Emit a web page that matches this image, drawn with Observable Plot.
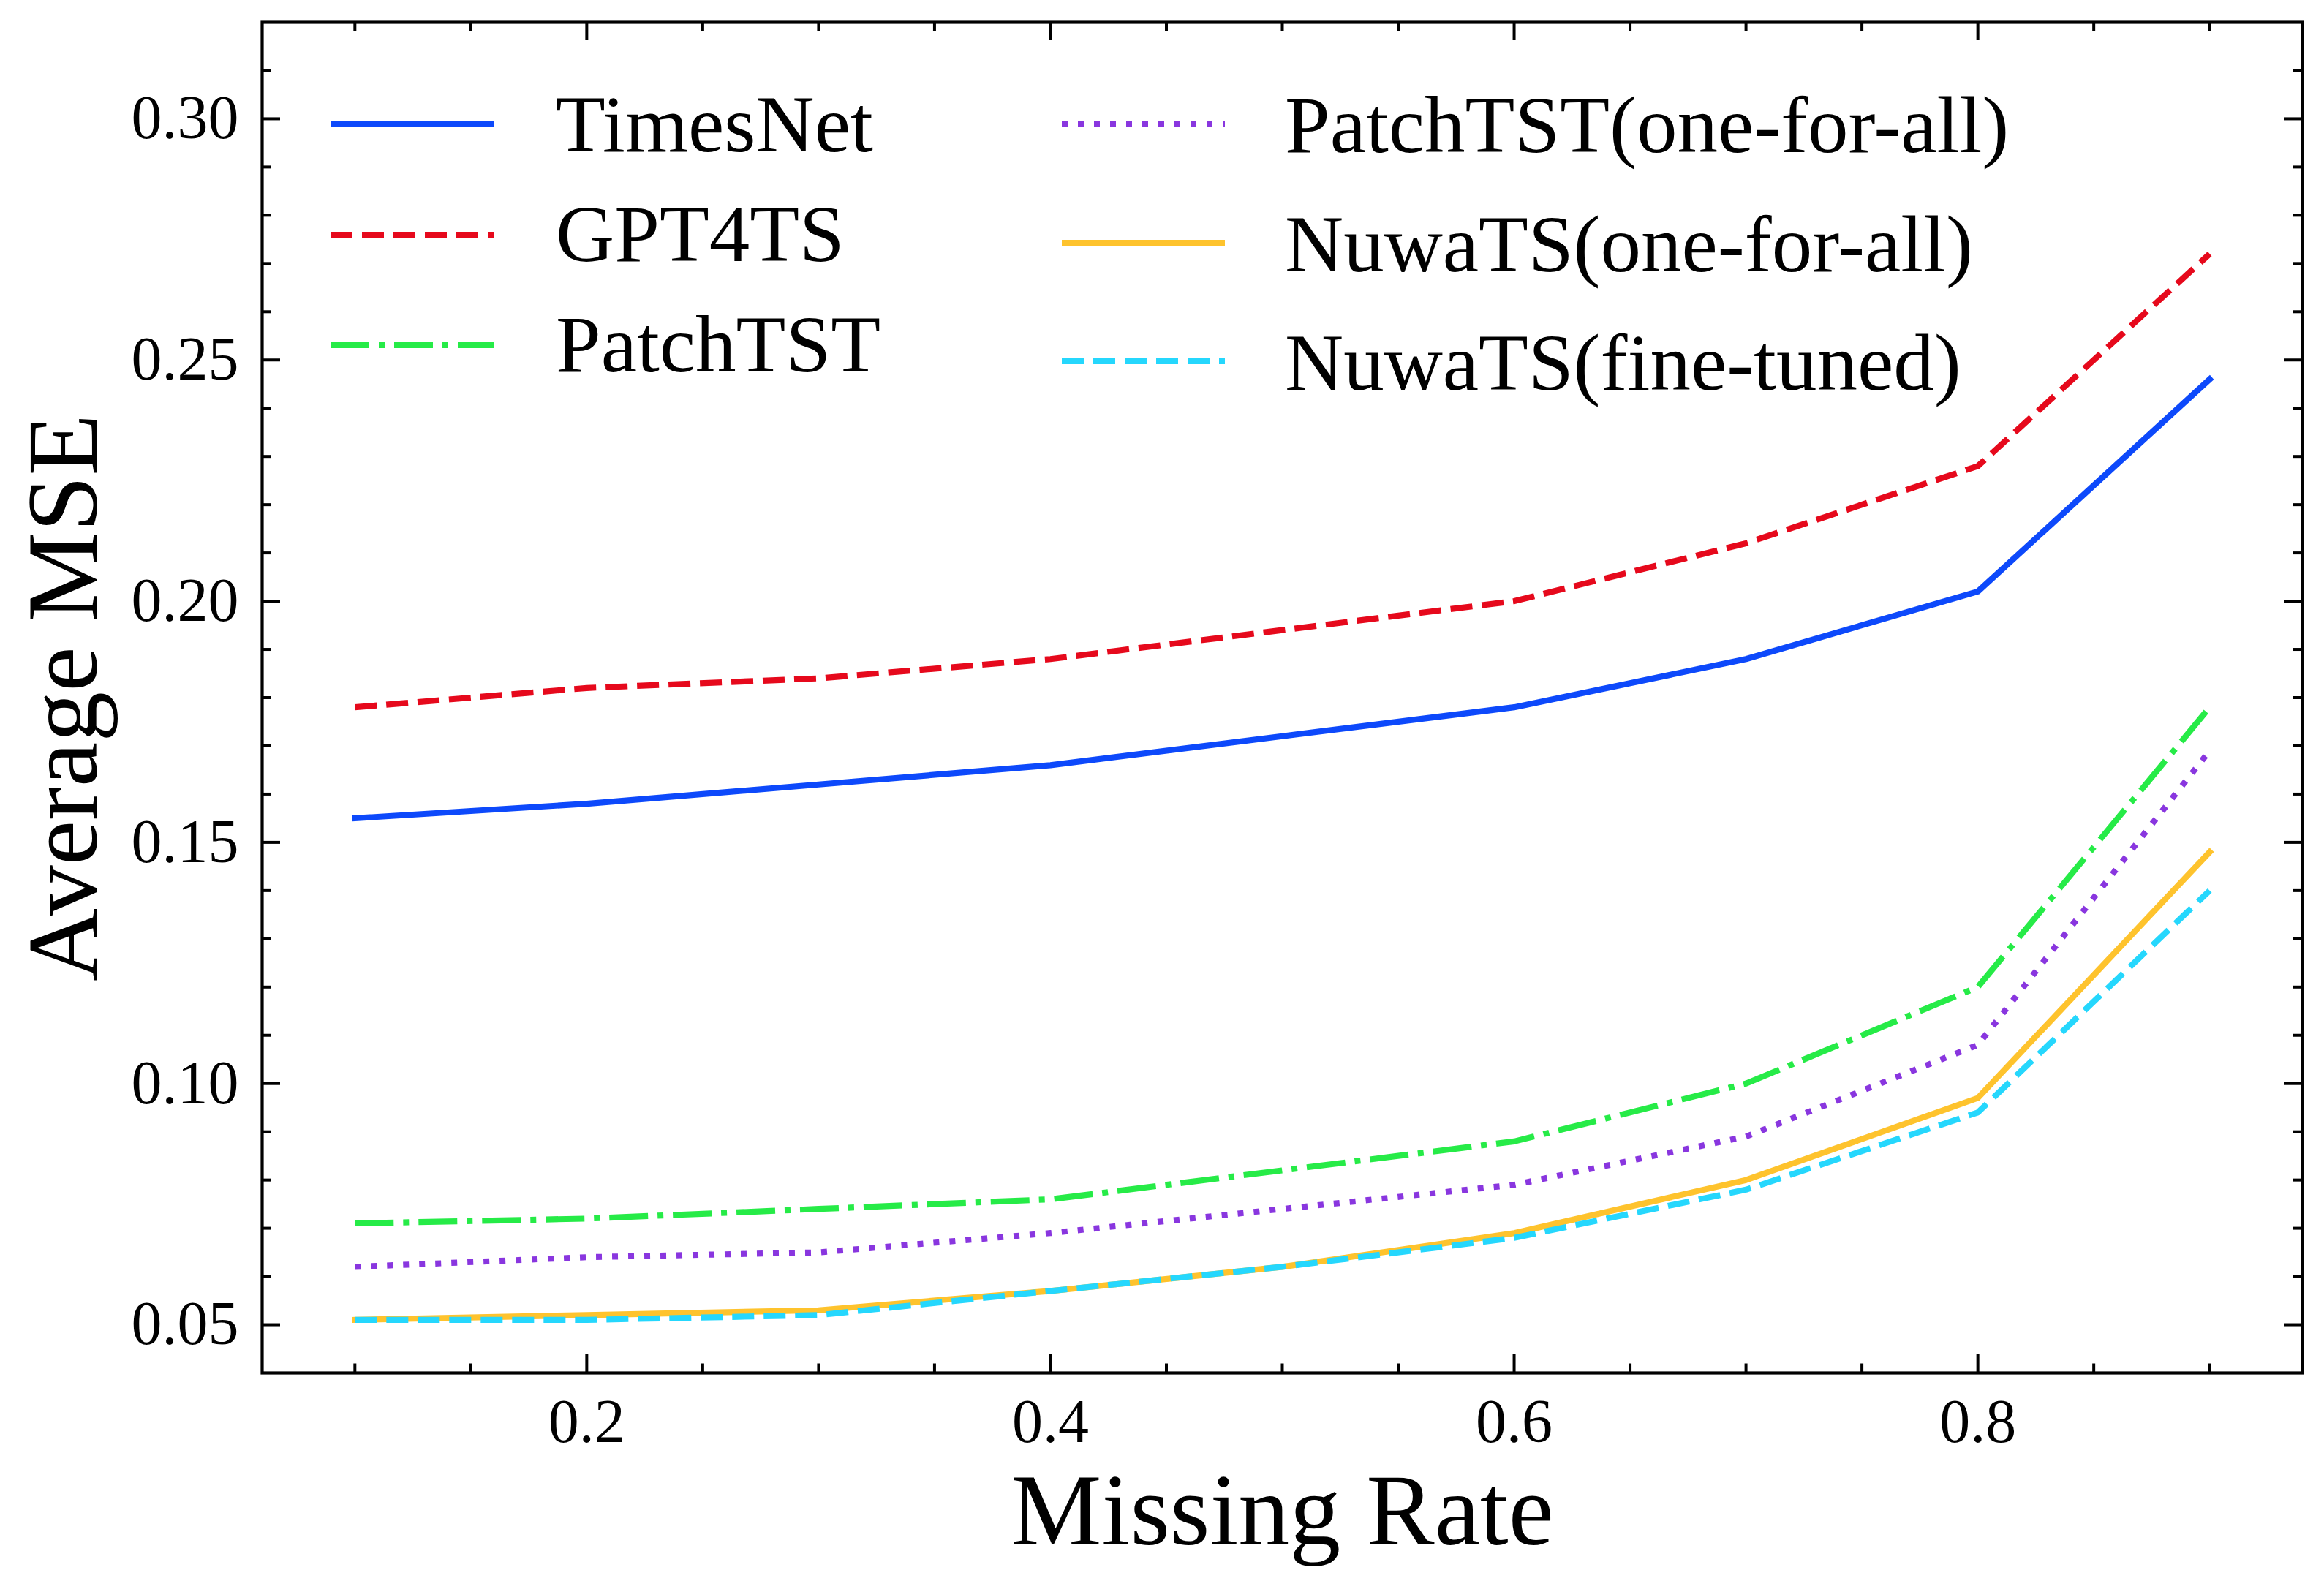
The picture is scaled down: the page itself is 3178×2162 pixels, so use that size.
<!DOCTYPE html>
<html>
<head>
<meta charset="utf-8">
<script src="https://cdn.jsdelivr.net/npm/d3@7"></script>
<script src="https://cdn.jsdelivr.net/npm/@observablehq/plot@0.6"></script>
<style>
  html, body { margin: 0; padding: 0; background: #fff; }
  #chart svg { display: block; }
</style>
</head>
<body>
<div id="chart"></div>
<script>
// ---- data ----
const missingRates = [0.1, 0.2, 0.3, 0.4, 0.5, 0.6, 0.7, 0.8, 0.9];
const seriesNames = ["TimesNet", "GPT4TS", "PatchTST", "PatchTST(one-for-all)", "NuwaTS(one-for-all)", "NuwaTS(fine-tuned)"];
const timesNet      = [0.155, 0.158, 0.162, 0.166, 0.172, 0.178, 0.188, 0.202, 0.246];
const gpt4ts        = [0.178, 0.182, 0.184, 0.188, 0.194, 0.200, 0.212, 0.228, 0.272];
const patchTST      = [0.071, 0.072, 0.074, 0.076, 0.082, 0.088, 0.100, 0.120, 0.178];
const patchTSTAll   = [0.062, 0.064, 0.065, 0.069, 0.074, 0.079, 0.089, 0.108, 0.169];
const nuwaTSAll     = [0.051, 0.052, 0.053, 0.057, 0.062, 0.069, 0.080, 0.097, 0.148];
const nuwaTSFine    = [0.051, 0.051, 0.052, 0.057, 0.062, 0.068, 0.078, 0.094, 0.140];
const seriesValues = [timesNet, gpt4ts, patchTST, patchTSTAll, nuwaTSAll, nuwaTSFine];
const xTickValues = [0.2, 0.4, 0.6, 0.8];
const yTickValues = [0.05, 0.10, 0.15, 0.20, 0.25, 0.30];
const xLabel = "Missing Rate";
const yLabel = "Average MSE";

// ---- styles ----
const colors = ["#0d49fb", "#e6091c", "#26eb47", "#8936df", "#fec32d", "#25d7fd"];
const LW = 8.2;
const dashes = [null, "30,13", "53,13,8,13", "8,14", null, "30,13"];

const W = 3178, H = 2162;
const mL = 358, mR = 30, mT = 30, mB = 285;
const plotW = W - mL - mR, plotH = H - mT - mB;
const font = "'Liberation Serif', 'Times New Roman', serif";

const rows = [];
seriesNames.forEach((name, i) => missingRates.forEach((r, j) => rows.push({model: name, rate: r, value: seriesValues[i][j]})));

const xMinor = d3.range(2, 19).map(k => +(k * 0.05).toFixed(2)).filter(v => !xTickValues.some(t => Math.abs(t - v) < 1e-9));
const yMinor = d3.range(5, 32).map(k => +(k * 0.01).toFixed(2)).filter(v => !yTickValues.some(t => Math.abs(t - v) < 1e-9));

const tickW = 4;
const majL = 25, minL = 12.5;

const lineMarks = seriesNames.map((name, i) => Plot.line(rows.filter(d => d.model === name), {
  x: "rate", y: "value", stroke: colors[i], strokeWidth: LW,
  strokeDasharray: dashes[i] || undefined,
  strokeLinecap: dashes[i] ? "butt" : "square",
  strokeLinejoin: "round"
}));

const svg = Plot.plot({
  width: W, height: H,
  marginLeft: mL, marginRight: mR, marginTop: mT, marginBottom: mB,
  x: {domain: [0.06, 0.94]},
  y: {domain: [0.04, 0.32]},
  style: {fontFamily: font, background: "white", color: "black"},
  marks: [
    ...lineMarks,
    // minor ticks
    Plot.ruleX(xMinor, {stroke: "black", strokeWidth: tickW, insetTop: plotH - minL}),
    Plot.ruleX(xMinor, {stroke: "black", strokeWidth: tickW, insetBottom: plotH - minL}),
    Plot.ruleY(yMinor, {stroke: "black", strokeWidth: tickW, insetRight: plotW - minL}),
    Plot.ruleY(yMinor, {stroke: "black", strokeWidth: tickW, insetLeft: plotW - minL}),
    // major ticks
    Plot.ruleX(xTickValues, {stroke: "black", strokeWidth: tickW, insetTop: plotH - majL}),
    Plot.ruleX(xTickValues, {stroke: "black", strokeWidth: tickW, insetBottom: plotH - majL}),
    Plot.ruleY(yTickValues, {stroke: "black", strokeWidth: tickW, insetRight: plotW - majL}),
    Plot.ruleY(yTickValues, {stroke: "black", strokeWidth: tickW, insetLeft: plotW - majL}),
    Plot.frame({stroke: "black", strokeWidth: 4.2}),
    Plot.axisX({ticks: xTickValues, tickSize: 0, tickPadding: 35, tickFormat: d3.format(".1f"), fontSize: 84, label: null}),
    Plot.axisY({ticks: yTickValues, tickSize: 0, tickPadding: 32, tickFormat: d3.format(".2f"), fontSize: 84, label: null}),
    Plot.text([xLabel], {text: d => d, frameAnchor: "bottom", dy: 190, fontSize: 140, lineAnchor: "middle", textAnchor: "middle"}),
    Plot.text([yLabel], {text: d => d, frameAnchor: "left", dx: -271, rotate: -90, fontSize: 138, lineAnchor: "middle", textAnchor: "middle"})
  ]
});

// ---- legend (inside the frame, two columns) ----
const legendCols = [
  {hx: 452, tx: 760, rows: [{h: 170, b: 207}, {h: 321, b: 357}, {h: 472, b: 508}]},
  {hx: 1452, tx: 1757, rows: [{h: 170, b: 208}, {h: 332, b: 371}, {h: 494, b: 533}]}
];
const handleLen = 223;
const g = d3.select(svg).append("g").attr("class", "legend").attr("text-anchor", "start");
seriesNames.forEach((name, i) => {
  const col = legendCols[Math.floor(i / 3)];
  const row = col.rows[i % 3];
  g.append("line")
    .attr("x1", col.hx).attr("x2", col.hx + handleLen)
    .attr("y1", row.h).attr("y2", row.h)
    .attr("stroke", colors[i]).attr("stroke-width", LW)
    .attr("stroke-linecap", "butt")
    .attr("stroke-dasharray", dashes[i] || null);
  g.append("text")
    .attr("x", col.tx).attr("y", row.b)
    .attr("text-anchor", "start")
    .attr("font-family", font).attr("font-size", 111).attr("fill", "black")
    .text(name);
});

document.getElementById("chart").appendChild(svg);
</script>
</body>
</html>
